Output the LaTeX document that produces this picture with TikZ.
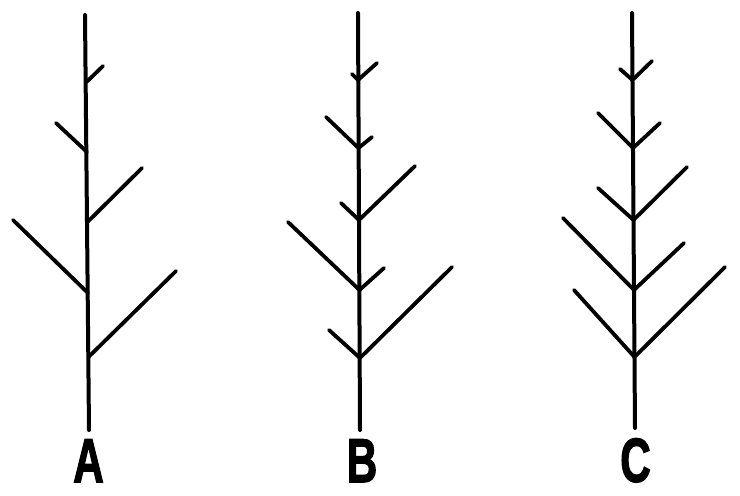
\documentclass[tikz,border=0pt]{standalone}
\usepackage{fontspec}
\setsansfont{Liberation Sans}[BoldFeatures={FakeBold=2.5}]
\begin{document}
\begin{tikzpicture}[
    x=0.5pt, y=-0.5pt,
    stem/.style = {line width=2pt, line cap=round},
    twig/.style = {line width=1.9pt, line cap=round},
    letter/.style = {font=\sffamily\bfseries\fontsize{31}{31}\selectfont,
                     xscale=0.68, inner sep=0pt, anchor=north}
]
    \useasboundingbox (0,0) rectangle (740,495);

    % A: single branches, alternating
    \coordinate (a top) at (85,15);
    \coordinate (a bot) at (89,430);
    \coordinate (a1) at (86.5,82);  \coordinate (a1r) at (103,66);
    \coordinate (a2) at (87,152);   \coordinate (a2l) at (56,123);
    \coordinate (a3) at (87.5,222); \coordinate (a3r) at (142,168);
    \coordinate (a4) at (88,293);   \coordinate (a4l) at (13,220);
    \coordinate (a5) at (88.5,357); \coordinate (a5r) at (176,271);
    \draw[stem] (a top) -- (a bot);
    \draw[twig] (a1) -- (a1r);
    \draw[twig] (a2) -- (a2l);
    \draw[twig] (a3) -- (a3r);
    \draw[twig] (a4) -- (a4l);
    \draw[twig] (a5) -- (a5r);
    \node[letter] (a) at (88.5,439) {A};

    % B: long branch plus short side shoot
    \coordinate (b top) at (358,13);
    \coordinate (b bot) at (360,430);
    \coordinate (b1) at (358,80);   \coordinate (b1l) at (352,74);  \coordinate (b1r) at (377,63);
    \coordinate (b2) at (358.5,148); \coordinate (b2l) at (326,117); \coordinate (b2r) at (372,137);
    \coordinate (b3) at (359,220);  \coordinate (b3l) at (341,203); \coordinate (b3r) at (415,166);
    \coordinate (b4) at (359.5,290); \coordinate (b4l) at (288,222); \coordinate (b4r) at (384,268);
    \coordinate (b5) at (360,358);  \coordinate (b5l) at (329,330); \coordinate (b5r) at (452,267);
    \draw[stem] (b top) -- (b bot);
    \foreach \i in {1,...,5} {
        \draw[twig] (b\i l) -- (b\i) -- (b\i r);
    }
    \node[letter] (b) at (362,439) {B};

    % C: paired branches of near equal length
    \coordinate (c top) at (632,13);
    \coordinate (c bot) at (635,428);
    \coordinate (c1) at (632.5,80);  \coordinate (c1l) at (620,69);  \coordinate (c1r) at (652,61);
    \coordinate (c2) at (633,148);   \coordinate (c2l) at (598,113); \coordinate (c2r) at (660,123);
    \coordinate (c3) at (633.5,220); \coordinate (c3l) at (598,188); \coordinate (c3r) at (687,167);
    \coordinate (c4) at (634,290);   \coordinate (c4l) at (563,218); \coordinate (c4r) at (684,243);
    \coordinate (c5) at (634.5,357); \coordinate (c5l) at (574,290); \coordinate (c5r) at (725,267);
    \draw[stem] (c top) -- (c bot);
    \foreach \i in {1,...,5} {
        \draw[twig] (c\i l) -- (c\i) -- (c\i r);
    }
    \node[letter] (c) at (635.5,438) {C};
\end{tikzpicture}
\end{document}
